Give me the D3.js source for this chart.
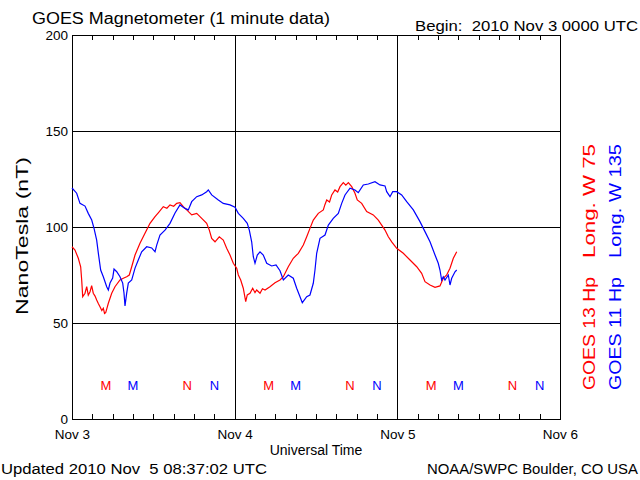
<!DOCTYPE html>
<html><head><meta charset="utf-8">
<script src="https://cdn.jsdelivr.net/npm/d3@7"></script>
<style>
body{margin:0;background:#fff;}
svg{display:block;}
text{font-family:"Liberation Sans",Arial,sans-serif;}
</style></head>
<body><svg id="c" width="640" height="480"></svg>
<script>
// Hours since 2010 Nov 3 00:00 UTC
const g13Hours = [0,0.44,0.93,1.28,1.43,1.58,1.92,2.17,2.4,2.66,2.9,3.14,3.4,3.64,3.9,4.13,4.4,4.62,4.8,4.97,5.1,5.36,5.86,6.34,7.08,7.57,8.07,8.45,8.81,9.3,10.03,10.77,11.51,12.25,12.73,13.47,14.0,14.46,15.0,15.45,15.93,16.42,16.92,17.66,18.4,19.14,19.87,20.26,20.61,21.1,21.73,22.32,22.82,23.31,23.8,24.3,24.54,24.89,25.27,25.63,25.86,26.26,26.66,27.0,27.25,27.74,28.1,28.48,29.21,29.95,30.69,31.18,31.91,32.65,33.39,34.13,34.63,35.11,35.6,36.34,37.08,37.3,37.58,38.0,38.32,38.8,39.2,39.54,40.03,40.4,40.77,41.27,41.75,42.09,42.74,43.48,44.45,45.19,45.69,46.18,46.67,47.17,47.91,48.88,49.87,50.86,51.59,52.08,52.82,53.56,54.29,54.78,55.28,55.77,56.26,56.76];
const g13Values = [89.7,88.0,83.7,79.3,72.4,63.7,65.5,68.9,64.5,66.3,69.5,65.5,64.0,62.0,60.0,58.5,56.5,57.7,55.0,55.4,57.0,60.3,65.5,68.9,72.4,73.3,74.1,75.0,79.3,85.4,91.5,96.7,101.9,105.4,107.4,110.6,109.8,111.5,110.8,112.3,112.7,110.6,108.9,106.3,107.1,104.5,101.9,98.4,94.1,92.3,94.9,93.2,88.9,85.4,81.1,78.5,75.0,72.4,68.1,61.1,64.6,65.5,68.1,65.8,67.2,65.5,67.8,67.2,68.9,71.0,72.4,74.1,79.3,83.7,86.3,90.6,94.9,99.3,103.6,107.1,108.9,111.5,114.1,113.0,116.7,119.3,118.2,121.0,123.1,121.8,123.1,121.0,117.6,114.1,112.3,108.0,106.3,103.6,101.0,98.4,94.9,92.3,88.9,86.3,82.8,79.3,75.9,71.5,69.8,68.6,69.3,73.3,75.0,78.5,83.7,87.1];

const g11Hours = [0,0.69,1.18,1.92,2.4,2.91,3.25,3.64,3.88,4.23,4.62,5.12,5.36,5.61,6.0,6.2,6.6,7.08,7.48,7.67,7.82,8.07,8.31,8.81,9.3,9.78,10.28,11.02,11.76,12.25,12.5,12.98,13.72,14.46,15.2,15.93,16.67,17.16,17.66,18.4,19.14,19.87,20.11,20.61,21.59,22.32,23.31,24.05,24.54,25.27,25.86,26.16,26.51,26.75,27.0,27.34,27.74,28.22,28.73,29.46,30.1,30.69,31.18,31.91,32.65,33.15,33.64,33.98,34.63,35.11,35.6,35.85,36.1,36.59,37.33,37.82,38.55,39.29,39.79,40.28,41.02,41.75,42.24,42.98,43.72,44.7,45.44,46.18,46.43,46.92,47.32,47.91,48.64,49.38,50.36,51.34,52.08,52.82,53.56,54.04,54.29,54.54,54.78,55.03,55.52,55.77,56.02,56.51,56.76];
const g11Values = [120.3,117.6,112.3,110.9,107.1,103.6,99.3,93.2,86.5,77.6,74.1,68.9,67.2,70.8,73.4,78.1,76.7,74.1,70.8,65.6,58.9,65.6,70.8,72.4,78.6,82.8,87.1,89.7,89.1,87.1,90.6,95.8,98.4,101.9,107.3,111.5,109.7,108.9,113.2,115.8,116.7,118.4,119.3,116.7,114.1,112.3,111.5,110.3,107.1,104.5,101.9,98.4,92.3,84.5,81.1,85.4,87.1,85.4,81.1,79.7,80.2,77.2,72.4,75.0,73.3,68.1,63.7,60.6,63.7,64.6,70.7,77.6,86.3,94.1,95.8,101.0,104.5,107.1,112.3,116.7,120.2,119.3,117.9,121.9,122.4,123.6,121.9,121.4,118.4,115.8,118.4,118.4,116.7,113.2,108.9,102.8,97.6,92.3,85.4,81.1,77.6,72.4,74.1,72.4,75.0,69.8,73.3,76.7,77.6];

// Local midnight (M) and noon (N) markers, hours since start
const g13Midnight = [5,29,53], g13Noon = [17,41,65];
const g11Midnight = [9,33,57], g11Noon = [21,45,69];

const yTicks = [0,50,100,150,200];
const dayTicks = [0,1,2,3];
const dayLabels = ["Nov 3","Nov 4","Nov 5","Nov 6"];

const RED = "#ff0000", BLUE = "#0000ff";
const t0 = Date.UTC(2010,10,3);
const toDate = h => new Date(t0 + h*3600e3);

const svg = d3.select("#c");
const L=72, R=560, T=35, B=419;
const x = d3.scaleUtc().domain([toDate(0), toDate(72)]).range([L,R]);
const y = d3.scaleLinear().domain([0,200]).range([B,T]);

// Grid
const gridX = d3.axisBottom(x).tickValues([1,2].map(d=>toDate(d*24))).tickSize(-(B-T)).tickFormat("");
svg.append("g").attr("transform",`translate(0,${B})`).call(gridX)
  .call(g=>{g.select(".domain").remove(); g.selectAll("line").attr("stroke","#000").attr("shape-rendering","crispEdges");});
const gridY = d3.axisLeft(y).tickValues([50,100,150]).tickSize(-(R-L)).tickFormat("");
svg.append("g").attr("transform",`translate(${L},0)`).call(gridY)
  .call(g=>{g.select(".domain").remove(); g.selectAll("line").attr("stroke","#000").attr("shape-rendering","crispEdges");});

// Minor ticks (3 h) top and bottom
const minor = d3.range(0,73,3).map(toDate);
svg.append("g").attr("transform",`translate(0,${B})`)
  .call(d3.axisBottom(x).tickValues(minor).tickSize(-5).tickFormat(""))
  .call(g=>{g.select(".domain").remove(); g.selectAll("line").attr("stroke","#000").attr("shape-rendering","crispEdges");});
svg.append("g").attr("transform",`translate(0,${T})`)
  .call(d3.axisTop(x).tickValues(minor).tickSize(-5).tickFormat(""))
  .call(g=>{g.select(".domain").remove(); g.selectAll("line").attr("stroke","#000").attr("shape-rendering","crispEdges");});

// Frame
svg.append("rect").attr("x",L).attr("y",T).attr("width",R-L).attr("height",B-T)
  .attr("fill","none").attr("stroke","#000").attr("shape-rendering","crispEdges");

// Y axis labels
svg.append("g").attr("transform",`translate(${L},0)`)
  .call(d3.axisLeft(y).tickValues(yTicks).tickSize(0).tickPadding(4))
  .call(g=>{g.select(".domain").remove(); g.selectAll("text").attr("font-size",13.5).attr("fill","#000").attr("font-family","Liberation Sans, Arial, sans-serif");});

// X axis labels
svg.append("g").attr("transform",`translate(0,${B})`)
  .call(d3.axisBottom(x).tickValues(dayTicks.map(d=>toDate(d*24))).tickSize(0).tickPadding(10)
    .tickFormat((d,i)=>dayLabels[i]))
  .call(g=>{g.select(".domain").remove(); g.selectAll("text").attr("font-size",13.5).attr("fill","#000").attr("font-family","Liberation Sans, Arial, sans-serif");});

// Lines
const line = d3.line().x(d=>x(toDate(d[0]))).y(d=>y(d[1]));
svg.append("path").datum(g13Hours.map((h,i)=>[h,g13Values[i]]))
  .attr("d",line).attr("fill","none").attr("stroke",RED).attr("stroke-width",1.2);
svg.append("path").datum(g11Hours.map((h,i)=>[h,g11Values[i]]))
  .attr("d",line).attr("fill","none").attr("stroke",BLUE).attr("stroke-width",1.2);

// M / N markers
const markY = 390;
function marks(arr, letter, color){
  svg.append("g").selectAll("text").data(arr).join("text")
    .attr("x",d=>x(toDate(d))).attr("y",markY).attr("text-anchor","middle")
    .attr("font-size",13).attr("fill",color).text(letter);
}
marks(g13Midnight,"M",RED); marks(g11Midnight,"M",BLUE);
marks(g13Noon,"N",RED); marks(g11Noon,"N",BLUE);

// Texts
svg.append("text").attr("x",32).attr("y",24).attr("font-size",16).attr("textLength",298)
  .attr("lengthAdjust","spacingAndGlyphs").text("GOES Magnetometer (1 minute data)");
svg.append("text").attr("x",415).attr("y",31).attr("font-size",14).attr("textLength",223)
  .attr("lengthAdjust","spacingAndGlyphs").attr("xml:space","preserve").style("white-space","pre")
  .text("Begin:  2010 Nov 3 0000 UTC");
svg.append("text").attr("x",316).attr("y",455).attr("text-anchor","middle").attr("font-size",14)
  .text("Universal Time");
svg.append("text").attr("x",1).attr("y",474).attr("font-size",14).attr("textLength",266)
  .attr("lengthAdjust","spacingAndGlyphs").style("white-space","pre")
  .text("Updated 2010 Nov  5 08:37:02 UTC");
svg.append("text").attr("x",427).attr("y",474).attr("font-size",14).attr("textLength",211)
  .attr("lengthAdjust","spacingAndGlyphs").text("NOAA/SWPC Boulder, CO USA");
svg.append("text").attr("transform","translate(28,236) rotate(-90)").attr("text-anchor","middle")
  .attr("font-size",17).attr("textLength",158).attr("lengthAdjust","spacingAndGlyphs")
  .text("NanoTesla (nT)");

// Right legend (rotated)
function vtext(xc, yBottom, len, str, color){
  svg.append("text").attr("transform",`translate(${xc},${yBottom}) rotate(-90)`)
    .attr("font-size",16).attr("fill",color).attr("textLength",len)
    .attr("lengthAdjust","spacingAndGlyphs").text(str);
}
vtext(595,390,113,"GOES 13 Hp",RED);
vtext(595,258,114,"Long. W 75",RED);
vtext(621,390,113,"GOES 11 Hp",BLUE);
vtext(621,258,114,"Long. W 135",BLUE);
</script></body></html>
